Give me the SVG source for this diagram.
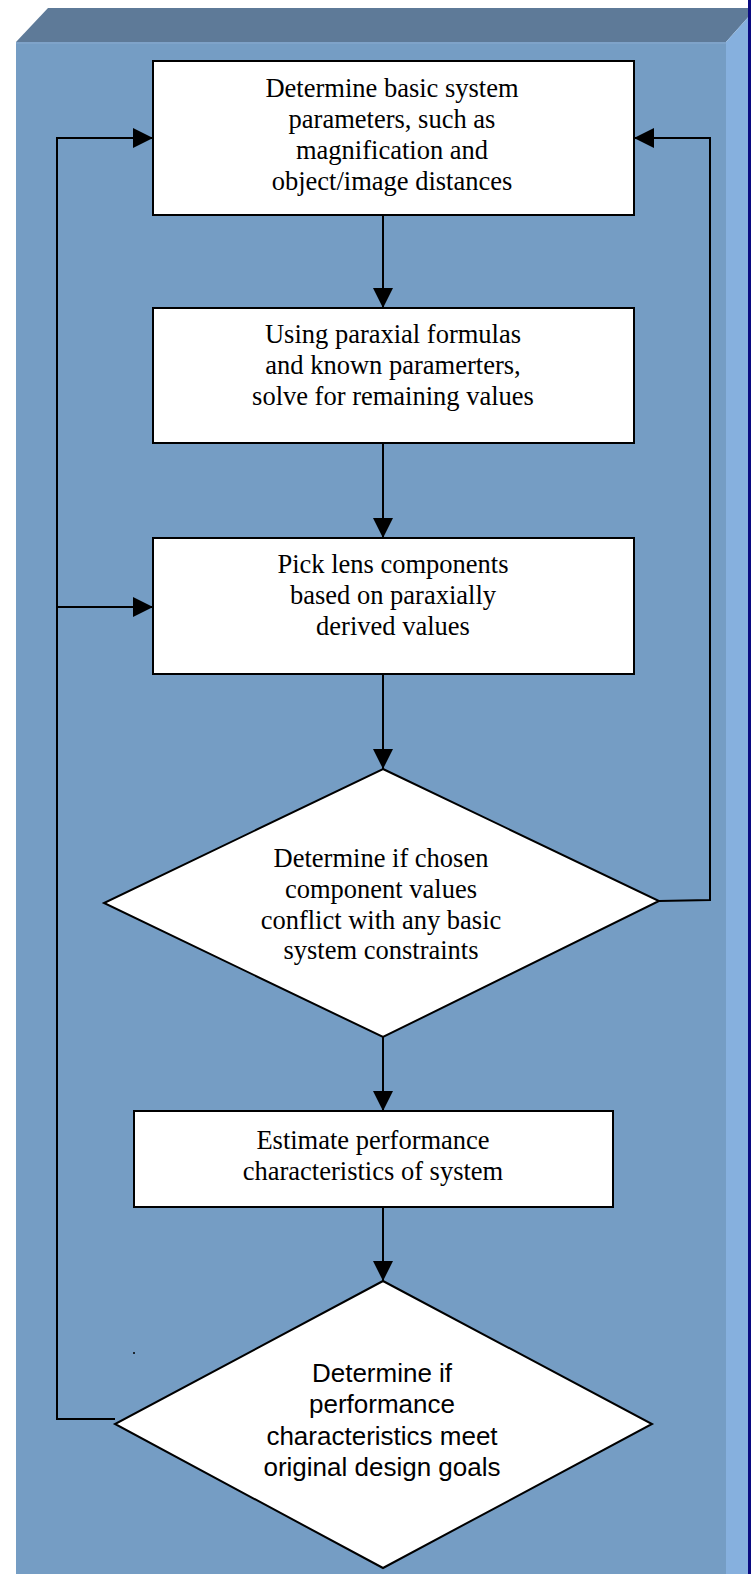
<svg xmlns="http://www.w3.org/2000/svg" width="751" height="1574" viewBox="0 0 751 1574">
<style>
.node{fill:#fff;stroke:#000;stroke-width:2}
.ser{font-family:"Liberation Serif","Times New Roman",serif;font-size:26.5px;fill:#000;text-anchor:middle}
.san{font-family:"Liberation Sans",Arial,sans-serif;font-size:26px;fill:#000;text-anchor:middle}
.ln{fill:none;stroke:#000;stroke-width:2}
</style>
<defs>
<marker id="ah" viewBox="0 0 20 20" refX="20" refY="10" markerWidth="20" markerHeight="20" markerUnits="userSpaceOnUse" orient="auto">
<path d="M0,0 L20,10 L0,20 Z" fill="#000"/>
</marker>
</defs>
<g id="background">
<rect x="0" y="0" width="751" height="1574" fill="#fff"/>
<polygon points="16,42 48,8 751,8 751,14 726,42" fill="#5E7A98"/>
<rect x="16" y="42" width="710" height="1532" fill="#759DC4"/>
<rect x="16" y="42" width="710" height="2" fill="#7FA3C9"/>
<polygon points="726,42 751,14 751,1574 726,1574" fill="#86B0DE"/>
<rect x="748" y="0" width="3" height="1574" fill="#0A0A80"/>
<circle cx="134" cy="1353" r="1" fill="#000"/>
</g>
<g id="connectors">
<line class="ln" x1="383" y1="215" x2="383" y2="308" marker-end="url(#ah)"/>
<line class="ln" x1="383" y1="443" x2="383" y2="538" marker-end="url(#ah)"/>
<line class="ln" x1="383" y1="674" x2="383" y2="769" marker-end="url(#ah)"/>
<line class="ln" x1="383" y1="1037" x2="383" y2="1111" marker-end="url(#ah)"/>
<line class="ln" x1="383" y1="1207" x2="383" y2="1281" marker-end="url(#ah)"/>
<polyline class="ln" points="115,1419 57,1419 57,138 153,138" marker-end="url(#ah)"/>
<line class="ln" x1="57" y1="607" x2="153" y2="607" marker-end="url(#ah)"/>
<polyline class="ln" points="659,901 710,900 710,138 634,138" marker-end="url(#ah)"/>
</g>
<g id="n1">
<rect class="node" x="153" y="61" width="481" height="154"/>
<text class="ser" x="392" y="97">Determine basic system</text>
<text class="ser" x="392" y="128">parameters, such as</text>
<text class="ser" x="392" y="159">magnification and</text>
<text class="ser" x="392" y="190">object/image distances</text>
</g>
<g id="n2">
<rect class="node" x="153" y="308" width="481" height="135"/>
<text class="ser" x="393" y="343">Using paraxial formulas</text>
<text class="ser" x="393" y="374">and known paramerters,</text>
<text class="ser" x="393" y="405">solve for remaining values</text>
</g>
<g id="n3">
<rect class="node" x="153" y="538" width="481" height="136"/>
<text class="ser" x="393" y="573">Pick lens components</text>
<text class="ser" x="393" y="604">based on paraxially</text>
<text class="ser" x="393" y="635">derived values</text>
</g>
<g id="n4">
<polygon class="node" points="383,769 659,901 383,1037 104,903"/>
<text class="ser" x="381" y="867">Determine if chosen</text>
<text class="ser" x="381" y="898">component values</text>
<text class="ser" x="381" y="929">conflict with any basic</text>
<text class="ser" x="381" y="959">system constraints</text>
</g>
<g id="n5">
<rect class="node" x="134" y="1111" width="479" height="96"/>
<text class="ser" x="373" y="1149">Estimate performance</text>
<text class="ser" x="373" y="1180">characteristics of system</text>
</g>
<g id="n6">
<polygon class="node" points="383,1281 652,1424 383,1568 115,1424"/>
<text class="san" x="382" y="1382">Determine if</text>
<text class="san" x="382" y="1413">performance</text>
<text class="san" x="382" y="1445">characteristics meet</text>
<text class="san" x="382" y="1476">original design goals</text>
</g>
</svg>
